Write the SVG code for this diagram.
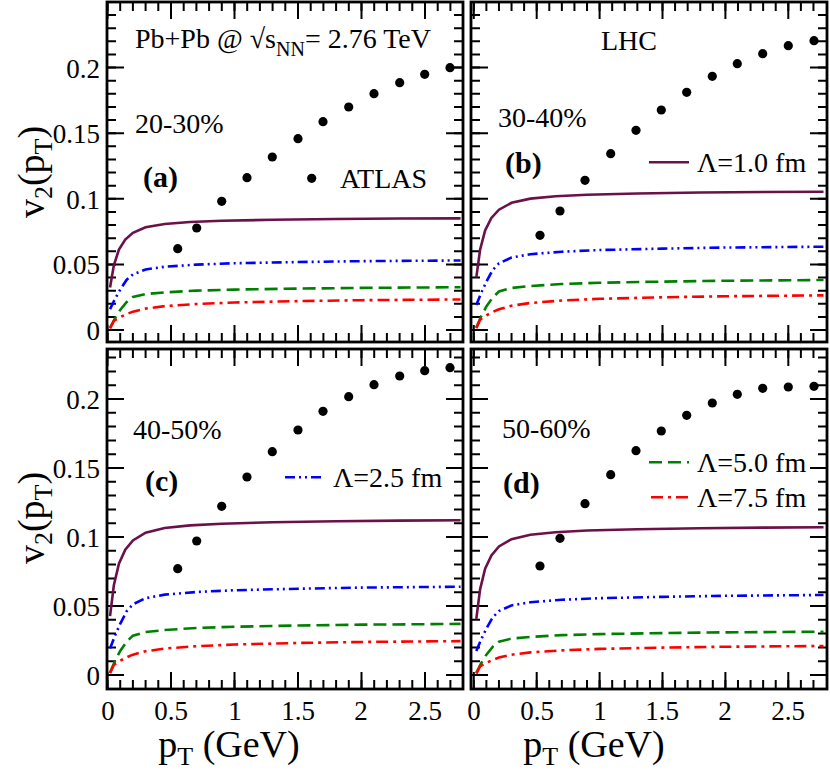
<svg xmlns="http://www.w3.org/2000/svg" xmlns:xlink="http://www.w3.org/1999/xlink" width="830" height="775" viewBox="0 0 830 775">
<style>
text{font-family:"Liberation Serif","Times New Roman",serif;fill:#000}
.t{font-size:28px}
.n{font-size:27px}
.b{font-size:30px;font-weight:bold}
.lab{font-size:38px}
.frame{fill:none;stroke:#000;stroke-width:2.8}
.tk{fill:none;stroke:#000;stroke-width:2}
.c{fill:none;stroke-width:2.6}
.pu{stroke:#6b1048}
.bl{stroke:#0000ff;stroke-dasharray:10 4 2 4 2 4}
.gr{stroke:#008000;stroke-dasharray:13 6}
.rd{stroke:#ff0000;stroke-dasharray:12 5 3 5}
.dot{fill:#000}
</style>
<defs>
<path id="fpu" vector-effect="non-scaling-stroke" d="M0.02,0.38 L0.05,0.58 L0.09,0.72 L0.14,0.81 L0.2,0.87 L0.3,0.92 L0.45,0.95 L0.65,0.967 L0.9,0.978 L1.3,0.987 L1.8,0.994 L2.3,0.998 L2.78,1"/>
<path id="fbl" vector-effect="non-scaling-stroke" d="M0.02,0.3 L0.06,0.45 L0.1,0.58 L0.15,0.72 L0.2,0.8 L0.3,0.87 L0.45,0.91 L0.7,0.94 L1.0,0.96 L1.5,0.977 L2.0,0.99 L2.78,1"/>
<path id="fgr" vector-effect="non-scaling-stroke" d="M0.02,0.05 L0.06,0.28 L0.1,0.47 L0.15,0.65 L0.2,0.77 L0.3,0.84 L0.45,0.88 L0.7,0.92 L1.0,0.945 L1.5,0.968 L2.0,0.985 L2.78,1"/>
<path id="frd" vector-effect="non-scaling-stroke" d="M0.02,0.05 L0.05,0.3 L0.1,0.42 L0.15,0.52 L0.2,0.6 L0.3,0.7 L0.45,0.78 L0.7,0.85 L1.0,0.9 L1.5,0.945 L2.0,0.975 L2.78,1"/>
<path id="ymt" d="M0,0h9m-9,-13.12h9m-9,-13.12h9m-9,-13.12h9m-9,-13.12h9m-9,-13.12h9m-9,-13.12h9m-9,-13.12h9m-9,-13.12h9m-9,-13.12h9m-9,-13.12h9m-9,-13.12h9m-9,-13.12h9m-9,-13.12h9m-9,-13.12h9m-9,-13.12h9m-9,-13.12h9m-9,-13.12h9m-9,-13.12h9m-9,-13.12h9m-9,-13.12h9m-9,-13.12h9m-9,-13.12h9m-9,-13.12h9m-9,-13.12h9"/>
<path id="yMt" d="M0,0h17m-17,-65.6h17m-17,-65.6h17m-17,-65.6h17m-17,-65.6h17"/>
<path id="ymb" d="M0,0h9m-9,-13.8h9m-9,-13.8h9m-9,-13.8h9m-9,-13.8h9m-9,-13.8h9m-9,-13.8h9m-9,-13.8h9m-9,-13.8h9m-9,-13.8h9m-9,-13.8h9m-9,-13.8h9m-9,-13.8h9m-9,-13.8h9m-9,-13.8h9m-9,-13.8h9m-9,-13.8h9m-9,-13.8h9m-9,-13.8h9m-9,-13.8h9m-9,-13.8h9m-9,-13.8h9m-9,-13.8h9m-9,-13.8h9"/>
<path id="yMb" d="M0,0h17m-17,-69h17m-17,-69h17m-17,-69h17m-17,-69h17"/>
<path id="xml" d="M0,0v-9m12.7,9v-9m12.7,9v-9m12.7,9v-9m12.7,9v-9m12.7,9v-9m12.7,9v-9m12.7,9v-9m12.7,9v-9m12.7,9v-9m12.7,9v-9m12.7,9v-9m12.7,9v-9m12.7,9v-9m12.7,9v-9m12.7,9v-9m12.7,9v-9m12.7,9v-9m12.7,9v-9m12.7,9v-9m12.7,9v-9m12.7,9v-9m12.7,9v-9m12.7,9v-9m12.7,9v-9m12.7,9v-9m12.7,9v-9m12.7,9v-9"/>
<path id="xMl" d="M0,0v-17m63.5,17v-17m63.5,17v-17m63.5,17v-17m63.5,17v-17m63.5,17v-17"/>
<path id="xmr" d="M0,0v-9m12.58,9v-9m12.58,9v-9m12.58,9v-9m12.58,9v-9m12.58,9v-9m12.58,9v-9m12.58,9v-9m12.58,9v-9m12.58,9v-9m12.58,9v-9m12.58,9v-9m12.58,9v-9m12.58,9v-9m12.58,9v-9m12.58,9v-9m12.58,9v-9m12.58,9v-9m12.58,9v-9m12.58,9v-9m12.58,9v-9m12.58,9v-9m12.58,9v-9m12.58,9v-9m12.58,9v-9m12.58,9v-9m12.58,9v-9m12.58,9v-9"/>
<path id="xMr" d="M0,0v-17m62.9,17v-17m62.9,17v-17m62.9,17v-17m62.9,17v-17m62.9,17v-17"/>
</defs>
<rect width="830" height="775" fill="#fff"/>

<!-- axis labels -->
<text class="lab" transform="translate(44,172) rotate(-90)" text-anchor="middle">v<tspan font-size="26" dy="8">2</tspan><tspan dy="-8">(p</tspan><tspan font-size="26" dy="8">T</tspan><tspan dy="-8">)</tspan></text>
<text class="lab" transform="translate(44,518) rotate(-90)" text-anchor="middle">v<tspan font-size="26" dy="8">2</tspan><tspan dy="-8">(p</tspan><tspan font-size="26" dy="8">T</tspan><tspan dy="-8">)</tspan></text>
<text class="lab" x="229" y="757" text-anchor="middle">p<tspan font-size="26" dy="8">T</tspan><tspan dy="-8"> (GeV)</tspan></text>
<text class="lab" x="594" y="757" text-anchor="middle">p<tspan font-size="26" dy="8">T</tspan><tspan dy="-8"> (GeV)</tspan></text>
<g class="n" text-anchor="end">
<text x="100" y="77.7">0.2</text><text x="100" y="143">0.15</text><text x="100" y="208.6">0.1</text><text x="100" y="274">0.05</text><text x="100" y="340">0</text>
<text x="100" y="409">0.2</text><text x="100" y="478">0.15</text><text x="100" y="547">0.1</text><text x="100" y="616">0.05</text><text x="100" y="685">0</text>
</g>
<g class="n" text-anchor="middle">
<text x="108" y="720">0</text><text x="171" y="720">0.5</text><text x="235" y="720">1</text><text x="298" y="720">1.5</text><text x="361" y="720">2</text><text x="425" y="720">2.5</text>
<text x="474" y="720">0</text><text x="537" y="720">0.5</text><text x="600" y="720">1</text><text x="662" y="720">1.5</text><text x="725" y="720">2</text><text x="788" y="720">2.5</text>
</g>

<!-- panel a -->
<g id="panel-a">
<rect class="frame" x="107" y="2" width="356" height="340"/>
<g class="tk">
<use xlink:href="#ymt" transform="translate(107,330)"/>
<use xlink:href="#yMt" transform="translate(107,330)"/>
<use xlink:href="#ymt" transform="translate(463,330) scale(-1,1)"/>
<use xlink:href="#yMt" transform="translate(463,330) scale(-1,1)"/>
<use xlink:href="#xml" transform="translate(107.5,342)"/>
<use xlink:href="#xMl" transform="translate(107.5,342)"/>
<use xlink:href="#xml" transform="translate(107.5,2) scale(1,-1)"/>
<use xlink:href="#xMl" transform="translate(107.5,2) scale(1,-1)"/>
</g>
<text class="t" x="135" y="48">Pb+Pb @ √s<tspan font-size="20" dy="8">NN</tspan><tspan dy="-8">= 2.76 TeV</tspan></text>
<text class="t" x="135" y="133">20-30%</text>
<text class="b" x="143" y="187">(a)</text>
<circle class="dot" cx="311.7" cy="178.3" r="4.6"/>
<text class="t" x="340" y="188">ATLAS</text>
</g>

<!-- panel b -->
<g id="panel-b">
<rect class="frame" x="471" y="2" width="356" height="340"/>
<g class="tk">
<use xlink:href="#ymt" transform="translate(471,330)"/>
<use xlink:href="#yMt" transform="translate(471,330)"/>
<use xlink:href="#ymt" transform="translate(827,330) scale(-1,1)"/>
<use xlink:href="#yMt" transform="translate(827,330) scale(-1,1)"/>
<use xlink:href="#xmr" transform="translate(473.8,342)"/>
<use xlink:href="#xMr" transform="translate(473.8,342)"/>
<use xlink:href="#xmr" transform="translate(473.8,2) scale(1,-1)"/>
<use xlink:href="#xMr" transform="translate(473.8,2) scale(1,-1)"/>
</g>
<text class="t" x="601" y="50">LHC</text>
<text class="t" x="498" y="127">30-40%</text>
<text class="b" x="505" y="173">(b)</text>
<line class="c pu" x1="649" y1="162.3" x2="689" y2="162.3"/>
<text class="t" x="697" y="172">Λ=1.0 fm</text>
</g>

<!-- panel c -->
<g id="panel-c">
<rect class="frame" x="107" y="349" width="356" height="340"/>
<g class="tk">
<use xlink:href="#ymb" transform="translate(107,675)"/>
<use xlink:href="#yMb" transform="translate(107,675)"/>
<use xlink:href="#ymb" transform="translate(463,675) scale(-1,1)"/>
<use xlink:href="#yMb" transform="translate(463,675) scale(-1,1)"/>
<use xlink:href="#xml" transform="translate(107.5,689)"/>
<use xlink:href="#xMl" transform="translate(107.5,689)"/>
<use xlink:href="#xml" transform="translate(107.5,349) scale(1,-1)"/>
<use xlink:href="#xMl" transform="translate(107.5,349) scale(1,-1)"/>
</g>
<text class="t" x="133" y="439">40-50%</text>
<text class="b" x="145" y="491">(c)</text>
<line class="c bl" x1="285" y1="477.3" x2="323" y2="477.3"/>
<text class="t" x="333" y="487">Λ=2.5 fm</text>
</g>

<!-- panel d -->
<g id="panel-d">
<rect class="frame" x="471" y="349" width="356" height="340"/>
<g class="tk">
<use xlink:href="#ymb" transform="translate(471,675)"/>
<use xlink:href="#yMb" transform="translate(471,675)"/>
<use xlink:href="#ymb" transform="translate(827,675) scale(-1,1)"/>
<use xlink:href="#yMb" transform="translate(827,675) scale(-1,1)"/>
<use xlink:href="#xmr" transform="translate(473.8,689)"/>
<use xlink:href="#xMr" transform="translate(473.8,689)"/>
<use xlink:href="#xmr" transform="translate(473.8,349) scale(1,-1)"/>
<use xlink:href="#xMr" transform="translate(473.8,349) scale(1,-1)"/>
</g>
<text class="t" x="502" y="438">50-60%</text>
<text class="b" x="503" y="493">(d)</text>
<line class="c gr" x1="649" y1="462.3" x2="689" y2="462.3"/>
<text class="t" x="697" y="472">Λ=5.0 fm</text>
<line class="c rd" x1="651" y1="497.3" x2="689" y2="497.3"/>
<text class="t" x="697" y="507">Λ=7.5 fm</text>
</g>

<!-- curves -->
<g id="curves">
<use xlink:href="#fpu" class="c pu" transform="translate(107.5,330) scale(127,-111.65)"/>
<use xlink:href="#fbl" class="c bl" transform="translate(107.5,330) scale(127,-69.54)"/>
<use xlink:href="#fgr" class="c gr" transform="translate(107.5,330) scale(127,-42.77)"/>
<use xlink:href="#frd" class="c rd" transform="translate(107.5,330) scale(127,-30.57)"/>
<use xlink:href="#fpu" class="c pu" transform="translate(473.8,330) scale(125.8,-138.3)"/>
<use xlink:href="#fbl" class="c bl" transform="translate(473.8,330) scale(125.8,-83.3)"/>
<use xlink:href="#fgr" class="c gr" transform="translate(473.8,330) scale(125.8,-49.99)"/>
<use xlink:href="#frd" class="c rd" transform="translate(473.8,330) scale(125.8,-34.64)"/>
<use xlink:href="#fpu" class="c pu" transform="translate(107.5,675) scale(127,-154.7)"/>
<use xlink:href="#fbl" class="c bl" transform="translate(107.5,675) scale(127,-88.3)"/>
<use xlink:href="#fgr" class="c gr" transform="translate(107.5,675) scale(127,-51.1)"/>
<use xlink:href="#frd" class="c rd" transform="translate(107.5,675) scale(127,-33.9)"/>
<use xlink:href="#fpu" class="c pu" transform="translate(473.8,675) scale(125.8,-147.7)"/>
<use xlink:href="#fbl" class="c bl" transform="translate(473.8,675) scale(125.8,-80)"/>
<use xlink:href="#fgr" class="c gr" transform="translate(473.8,675) scale(125.8,-43.3)"/>
<use xlink:href="#frd" class="c rd" transform="translate(473.8,675) scale(125.8,-29)"/>
</g>

<!-- data -->
<g id="data" class="dot">
<circle cx="177.7" cy="248.7" r="4.6"/><circle cx="196.7" cy="228" r="4.6"/><circle cx="221.7" cy="201.3" r="4.6"/><circle cx="247" cy="177.7" r="4.6"/><circle cx="272.3" cy="157" r="4.6"/><circle cx="298" cy="138.7" r="4.6"/><circle cx="323" cy="121.7" r="4.6"/><circle cx="348.7" cy="107" r="4.6"/><circle cx="374" cy="93.7" r="4.6"/><circle cx="399.7" cy="82.7" r="4.6"/><circle cx="424.7" cy="74.3" r="4.6"/><circle cx="450" cy="67.7" r="4.6"/>
<circle cx="540" cy="235.3" r="4.6"/><circle cx="560" cy="211" r="4.6"/><circle cx="585" cy="180.3" r="4.6"/><circle cx="610.7" cy="153.7" r="4.6"/><circle cx="636" cy="130.3" r="4.6"/><circle cx="661.3" cy="110" r="4.6"/><circle cx="686.7" cy="92.3" r="4.6"/><circle cx="712.3" cy="76.3" r="4.6"/><circle cx="737.3" cy="63.7" r="4.6"/><circle cx="762.7" cy="53.7" r="4.6"/><circle cx="788.3" cy="45.7" r="4.6"/><circle cx="814" cy="40.7" r="4.6"/>
<circle cx="177.7" cy="568.7" r="4.6"/><circle cx="196.7" cy="541" r="4.6"/><circle cx="221.7" cy="506.3" r="4.6"/><circle cx="247" cy="477" r="4.6"/><circle cx="272.3" cy="451.7" r="4.6"/><circle cx="298" cy="430" r="4.6"/><circle cx="323" cy="411.3" r="4.6"/><circle cx="348.7" cy="396.7" r="4.6"/><circle cx="374" cy="384.7" r="4.6"/><circle cx="399.7" cy="376" r="4.6"/><circle cx="424.7" cy="370.7" r="4.6"/><circle cx="450" cy="367.7" r="4.6"/>
<circle cx="540" cy="566" r="4.6"/><circle cx="560" cy="538.3" r="4.6"/><circle cx="585" cy="503.7" r="4.6"/><circle cx="610.7" cy="474.7" r="4.6"/><circle cx="636" cy="450.7" r="4.6"/><circle cx="661.3" cy="431" r="4.6"/><circle cx="686.7" cy="415.3" r="4.6"/><circle cx="712.3" cy="403" r="4.6"/><circle cx="737.3" cy="394.3" r="4.6"/><circle cx="762.7" cy="388.3" r="4.6"/><circle cx="788.3" cy="387" r="4.6"/><circle cx="814" cy="386.3" r="4.6"/>
</g>
</svg>
